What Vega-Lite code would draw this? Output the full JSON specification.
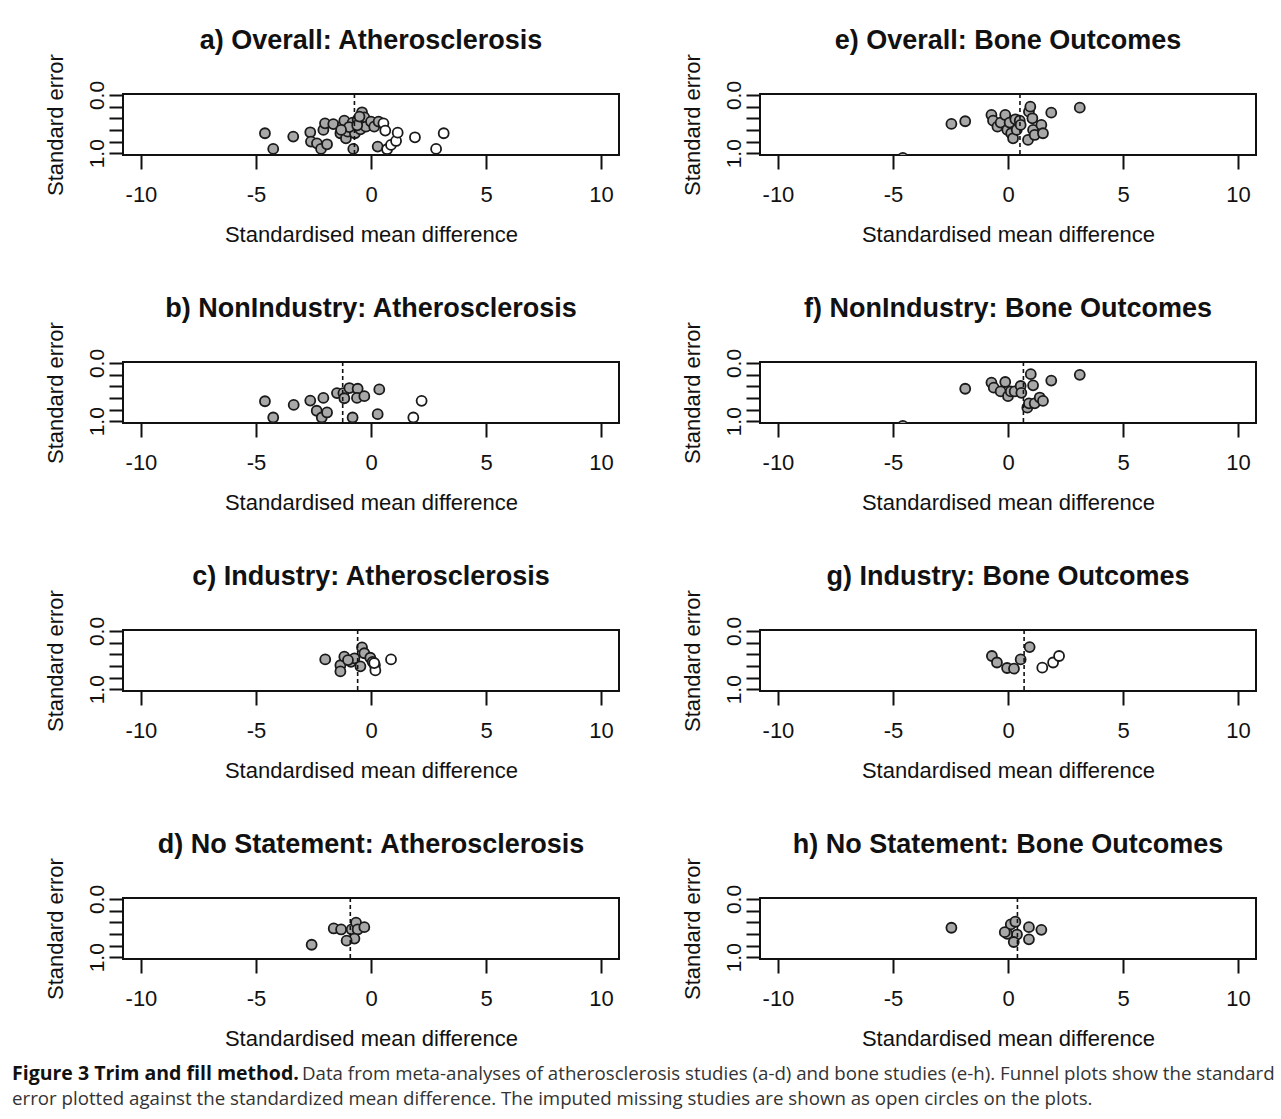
{
  "$schema": "https://vega.github.io/schema/vega-lite/v6.json",
  "background": "white",
  "padding": {"left": 12, "top": 25, "right": 4, "bottom": 5},
  "bounds": "flush",
  "datasets": {
    "pts": [
      {"p":"a","smd":-4.61,"se":0.657,"k":"observed"},{"p":"a","smd":-4.25,"se":0.926,"k":"observed"},{"p":"a","smd":-3.38,"se":0.714,"k":"observed"},{"p":"a","smd":-2.64,"se":0.64,"k":"observed"},{"p":"a","smd":-2.61,"se":0.8,"k":"observed"},{"p":"a","smd":-2.35,"se":0.83,"k":"observed"},{"p":"a","smd":-2.17,"se":0.926,"k":"observed"},{"p":"a","smd":-1.91,"se":0.846,"k":"observed"},{"p":"a","smd":-2.07,"se":0.6,"k":"observed"},{"p":"a","smd":-2.0,"se":0.486,"k":"observed"},{"p":"a","smd":-1.64,"se":0.5,"k":"observed"},{"p":"a","smd":-1.33,"se":0.657,"k":"observed"},{"p":"a","smd":-1.23,"se":0.526,"k":"observed"},{"p":"a","smd":-1.16,"se":0.44,"k":"observed"},{"p":"a","smd":-1.09,"se":0.743,"k":"observed"},{"p":"a","smd":-1.01,"se":0.629,"k":"observed"},{"p":"a","smd":-0.8,"se":0.474,"k":"observed"},{"p":"a","smd":-0.77,"se":0.926,"k":"observed"},{"p":"a","smd":-0.7,"se":0.657,"k":"observed"},{"p":"a","smd":-0.58,"se":0.429,"k":"observed"},{"p":"a","smd":-0.46,"se":0.589,"k":"observed"},{"p":"a","smd":-0.39,"se":0.297,"k":"observed"},{"p":"a","smd":-0.29,"se":0.383,"k":"observed"},{"p":"a","smd":-0.22,"se":0.543,"k":"observed"},{"p":"a","smd":0.0,"se":0.457,"k":"observed"},{"p":"a","smd":0.14,"se":0.543,"k":"observed"},{"p":"a","smd":0.33,"se":0.457,"k":"observed"},{"p":"a","smd":0.29,"se":0.886,"k":"observed"},{"p":"a","smd":-0.95,"se":0.55,"k":"observed"},{"p":"a","smd":-0.6,"se":0.52,"k":"observed"},{"p":"a","smd":-1.3,"se":0.6,"k":"observed"},{"p":"a","smd":-0.5,"se":0.37,"k":"observed"},
      {"p":"a","smd":0.54,"se":0.486,"k":"imputed"},{"p":"a","smd":0.62,"se":0.611,"k":"imputed"},{"p":"a","smd":0.7,"se":0.931,"k":"imputed"},{"p":"a","smd":0.87,"se":0.857,"k":"imputed"},{"p":"a","smd":1.09,"se":0.789,"k":"imputed"},{"p":"a","smd":1.16,"se":0.646,"k":"imputed"},{"p":"a","smd":1.91,"se":0.726,"k":"imputed"},{"p":"a","smd":2.83,"se":0.926,"k":"imputed"},{"p":"a","smd":3.16,"se":0.657,"k":"imputed"},
      {"p":"b","smd":-4.61,"se":0.657,"k":"observed"},{"p":"b","smd":-4.25,"se":0.936,"k":"observed"},{"p":"b","smd":-3.36,"se":0.72,"k":"observed"},{"p":"b","smd":-2.64,"se":0.645,"k":"observed"},{"p":"b","smd":-2.36,"se":0.82,"k":"observed"},{"p":"b","smd":-2.14,"se":0.936,"k":"observed"},{"p":"b","smd":-1.91,"se":0.849,"k":"observed"},{"p":"b","smd":-2.07,"se":0.599,"k":"observed"},{"p":"b","smd":-1.48,"se":0.517,"k":"observed"},{"p":"b","smd":-1.2,"se":0.517,"k":"observed"},{"p":"b","smd":-1.16,"se":0.605,"k":"observed"},{"p":"b","smd":-0.94,"se":0.43,"k":"observed"},{"p":"b","smd":-0.58,"se":0.442,"k":"observed"},{"p":"b","smd":-0.61,"se":0.599,"k":"observed"},{"p":"b","smd":-0.29,"se":0.57,"k":"observed"},{"p":"b","smd":-0.8,"se":0.936,"k":"observed"},{"p":"b","smd":0.36,"se":0.453,"k":"observed"},{"p":"b","smd":0.29,"se":0.878,"k":"observed"},
      {"p":"b","smd":2.2,"se":0.65,"k":"imputed"},{"p":"b","smd":1.84,"se":0.936,"k":"imputed"},
      {"p":"c","smd":-1.99,"se":0.488,"k":"observed"},{"p":"c","smd":-1.33,"se":0.588,"k":"observed"},{"p":"c","smd":-1.33,"se":0.694,"k":"observed"},{"p":"c","smd":-1.16,"se":0.441,"k":"observed"},{"p":"c","smd":-0.87,"se":0.529,"k":"observed"},{"p":"c","smd":-0.72,"se":0.47,"k":"observed"},{"p":"c","smd":-0.46,"se":0.606,"k":"observed"},{"p":"c","smd":-0.39,"se":0.282,"k":"observed"},{"p":"c","smd":-0.29,"se":0.382,"k":"observed"},{"p":"c","smd":-0.03,"se":0.459,"k":"observed"},{"p":"c","smd":0.07,"se":0.529,"k":"observed"},{"p":"c","smd":-1.0,"se":0.5,"k":"observed"},
      {"p":"c","smd":0.87,"se":0.488,"k":"imputed"},{"p":"c","smd":0.17,"se":0.588,"k":"imputed"},{"p":"c","smd":0.19,"se":0.676,"k":"imputed"},{"p":"c","smd":0.14,"se":0.55,"k":"imputed"},
      {"p":"d","smd":-2.58,"se":0.785,"k":"observed"},{"p":"d","smd":-1.62,"se":0.506,"k":"observed"},{"p":"d","smd":-1.3,"se":0.523,"k":"observed"},{"p":"d","smd":-0.84,"se":0.523,"k":"observed"},{"p":"d","smd":-0.65,"se":0.407,"k":"observed"},{"p":"d","smd":-0.58,"se":0.523,"k":"observed"},{"p":"d","smd":-0.29,"se":0.483,"k":"observed"},{"p":"d","smd":-0.72,"se":0.68,"k":"observed"},{"p":"d","smd":-1.06,"se":0.715,"k":"observed"},
      {"p":"e","smd":-2.46,"se":0.497,"k":"observed"},{"p":"e","smd":-1.86,"se":0.451,"k":"observed"},{"p":"e","smd":-0.72,"se":0.343,"k":"observed"},{"p":"e","smd":-0.65,"se":0.44,"k":"observed"},{"p":"e","smd":-0.46,"se":0.543,"k":"observed"},{"p":"e","smd":-0.32,"se":0.474,"k":"observed"},{"p":"e","smd":-0.12,"se":0.343,"k":"observed"},{"p":"e","smd":-0.03,"se":0.6,"k":"observed"},{"p":"e","smd":0.07,"se":0.474,"k":"observed"},{"p":"e","smd":0.14,"se":0.657,"k":"observed"},{"p":"e","smd":0.22,"se":0.743,"k":"observed"},{"p":"e","smd":0.32,"se":0.417,"k":"observed"},{"p":"e","smd":0.38,"se":0.6,"k":"observed"},{"p":"e","smd":0.51,"se":0.44,"k":"observed"},{"p":"e","smd":0.55,"se":0.514,"k":"observed"},{"p":"e","smd":0.87,"se":0.771,"k":"observed"},{"p":"e","smd":0.91,"se":0.286,"k":"observed"},{"p":"e","smd":0.97,"se":0.2,"k":"observed"},{"p":"e","smd":1.06,"se":0.4,"k":"observed"},{"p":"e","smd":1.09,"se":0.6,"k":"observed"},{"p":"e","smd":1.16,"se":0.686,"k":"observed"},{"p":"e","smd":1.45,"se":0.514,"k":"observed"},{"p":"e","smd":1.52,"se":0.657,"k":"observed"},{"p":"e","smd":1.88,"se":0.303,"k":"observed"},{"p":"e","smd":3.12,"se":0.217,"k":"observed"},{"p":"e","smd":-4.57,"se":1.08,"k":"observed"},
      {"p":"f","smd":-1.86,"se":0.442,"k":"observed"},{"p":"f","smd":-0.72,"se":0.337,"k":"observed"},{"p":"f","smd":-0.62,"se":0.424,"k":"observed"},{"p":"f","smd":-0.32,"se":0.488,"k":"observed"},{"p":"f","smd":-0.12,"se":0.326,"k":"observed"},{"p":"f","smd":0.0,"se":0.57,"k":"observed"},{"p":"f","smd":0.12,"se":0.488,"k":"observed"},{"p":"f","smd":0.29,"se":0.488,"k":"observed"},{"p":"f","smd":0.55,"se":0.395,"k":"observed"},{"p":"f","smd":0.58,"se":0.512,"k":"observed"},{"p":"f","smd":0.99,"se":0.192,"k":"observed"},{"p":"f","smd":1.09,"se":0.384,"k":"observed"},{"p":"f","smd":0.84,"se":0.767,"k":"observed"},{"p":"f","smd":0.91,"se":0.692,"k":"observed"},{"p":"f","smd":1.16,"se":0.692,"k":"observed"},{"p":"f","smd":1.38,"se":0.593,"k":"observed"},{"p":"f","smd":1.52,"se":0.651,"k":"observed"},{"p":"f","smd":1.88,"se":0.302,"k":"observed"},{"p":"f","smd":3.12,"se":0.203,"k":"observed"},{"p":"f","smd":-4.57,"se":1.08,"k":"observed"},
      {"p":"g","smd":-0.7,"se":0.429,"k":"observed"},{"p":"g","smd":-0.48,"se":0.541,"k":"observed"},{"p":"g","smd":-0.04,"se":0.635,"k":"observed"},{"p":"g","smd":0.26,"se":0.647,"k":"observed"},{"p":"g","smd":0.55,"se":0.488,"k":"observed"},{"p":"g","smd":0.94,"se":0.276,"k":"observed"},
      {"p":"g","smd":1.49,"se":0.629,"k":"imputed"},{"p":"g","smd":1.96,"se":0.541,"k":"imputed"},{"p":"g","smd":2.22,"se":0.429,"k":"imputed"},
      {"p":"h","smd":-2.46,"se":0.494,"k":"observed"},{"p":"h","smd":0.12,"se":0.436,"k":"observed"},{"p":"h","smd":0.32,"se":0.39,"k":"observed"},{"p":"h","smd":-0.03,"se":0.599,"k":"observed"},{"p":"h","smd":0.39,"se":0.61,"k":"observed"},{"p":"h","smd":0.25,"se":0.738,"k":"observed"},{"p":"h","smd":0.91,"se":0.483,"k":"observed"},{"p":"h","smd":1.45,"se":0.529,"k":"observed"},{"p":"h","smd":0.91,"se":0.692,"k":"observed"},{"p":"h","smd":-0.14,"se":0.57,"k":"observed"}
    ],
    "est": [
      {"p":"a","smd":-0.72},{"p":"b","smd":-1.23},{"p":"c","smd":-0.58},{"p":"d","smd":-0.9},
      {"p":"e","smd":0.52},{"p":"f","smd":0.67},{"p":"g","smd":0.7},{"p":"h","smd":0.41}
    ]
  },
  "vconcat": [
    {
      "bounds": "flush",
      "spacing": 268,
      "title": {
        "text": "Figure 3 Trim and fill method.",
        "subtitle": "error plotted against the standardized mean difference. The imputed missing studies are shown as open circles on the plots.",
        "orient": "bottom", "anchor": "start", "frame": "bounds",
        "dx": -31, "offset": 15,
        "font": "Open Sans", "fontSize": 19.5, "fontWeight": "bold", "color": "#111111",
        "subtitleFont": "Open Sans", "subtitleFontSize": 18.7, "subtitleFontWeight": "normal", "subtitleColor": "#333333", "subtitlePadding": 5
      },
      "vconcat": [
        {"bounds": "flush", "spacing": 141, "hconcat": [
          {"title": "a) Overall: Atherosclerosis", "width": 496, "height": 61, "layer": [
            {"data": {"name": "pts"}, "transform": [{"filter": "datum.p == 'a'"}], "mark": {"type": "circle", "clip": true, "size": 100, "opacity": 1, "stroke": "#1a1a1a", "strokeWidth": 1.8},
             "encoding": {"x": {"field": "smd", "type": "quantitative", "title": "Standardised mean difference", "scale": {"domain": [-10.78, 10.78], "nice": false, "zero": false}, "axis": {"values": [-10, -5, 0, 5, 10]}}, "y": {"field": "se", "type": "quantitative", "title": "Standard error", "scale": {"domain": [-0.017, 1.03], "reverse": true, "nice": false, "zero": false}, "axis": {"values": [0, 0.2, 0.4, 0.6, 0.8, 1.0]}}, "fill": {"field": "k", "type": "nominal", "scale": {"domain": ["observed", "imputed"], "range": ["#a8a8a8", "#ffffff"]}, "legend": null}}},
            {"data": {"name": "est"}, "transform": [{"filter": "datum.p == 'a'"}], "mark": {"type": "rule", "strokeDash": [4, 3], "strokeWidth": 1.6, "color": "#111111"},
             "encoding": {"x": {"field": "smd", "type": "quantitative"}}}
          ]},
          {"title": "e) Overall: Bone Outcomes", "width": 496, "height": 61, "layer": [
            {"data": {"name": "pts"}, "transform": [{"filter": "datum.p == 'e'"}], "mark": {"type": "circle", "clip": true, "size": 100, "opacity": 1, "stroke": "#1a1a1a", "strokeWidth": 1.8},
             "encoding": {"x": {"field": "smd", "type": "quantitative", "title": "Standardised mean difference", "scale": {"domain": [-10.78, 10.78], "nice": false, "zero": false}, "axis": {"values": [-10, -5, 0, 5, 10]}}, "y": {"field": "se", "type": "quantitative", "title": "Standard error", "scale": {"domain": [-0.017, 1.03], "reverse": true, "nice": false, "zero": false}, "axis": {"values": [0, 0.2, 0.4, 0.6, 0.8, 1.0]}}, "fill": {"field": "k", "type": "nominal", "scale": {"domain": ["observed", "imputed"], "range": ["#a8a8a8", "#ffffff"]}, "legend": null}}},
            {"data": {"name": "est"}, "transform": [{"filter": "datum.p == 'e'"}], "mark": {"type": "rule", "strokeDash": [4, 3], "strokeWidth": 1.6, "color": "#111111"},
             "encoding": {"x": {"field": "smd", "type": "quantitative"}}}
          ]}
        ]},
        {"bounds": "flush", "spacing": 141, "hconcat": [
          {"title": "b) NonIndustry: Atherosclerosis", "width": 496, "height": 61, "layer": [
            {"data": {"name": "pts"}, "transform": [{"filter": "datum.p == 'b'"}], "mark": {"type": "circle", "clip": true, "size": 100, "opacity": 1, "stroke": "#1a1a1a", "strokeWidth": 1.8},
             "encoding": {"x": {"field": "smd", "type": "quantitative", "title": "Standardised mean difference", "scale": {"domain": [-10.78, 10.78], "nice": false, "zero": false}, "axis": {"values": [-10, -5, 0, 5, 10]}}, "y": {"field": "se", "type": "quantitative", "title": "Standard error", "scale": {"domain": [-0.017, 1.03], "reverse": true, "nice": false, "zero": false}, "axis": {"values": [0, 0.2, 0.4, 0.6, 0.8, 1.0]}}, "fill": {"field": "k", "type": "nominal", "scale": {"domain": ["observed", "imputed"], "range": ["#a8a8a8", "#ffffff"]}, "legend": null}}},
            {"data": {"name": "est"}, "transform": [{"filter": "datum.p == 'b'"}], "mark": {"type": "rule", "strokeDash": [4, 3], "strokeWidth": 1.6, "color": "#111111"},
             "encoding": {"x": {"field": "smd", "type": "quantitative"}}}
          ]},
          {"title": "f) NonIndustry: Bone Outcomes", "width": 496, "height": 61, "layer": [
            {"data": {"name": "pts"}, "transform": [{"filter": "datum.p == 'f'"}], "mark": {"type": "circle", "clip": true, "size": 100, "opacity": 1, "stroke": "#1a1a1a", "strokeWidth": 1.8},
             "encoding": {"x": {"field": "smd", "type": "quantitative", "title": "Standardised mean difference", "scale": {"domain": [-10.78, 10.78], "nice": false, "zero": false}, "axis": {"values": [-10, -5, 0, 5, 10]}}, "y": {"field": "se", "type": "quantitative", "title": "Standard error", "scale": {"domain": [-0.017, 1.03], "reverse": true, "nice": false, "zero": false}, "axis": {"values": [0, 0.2, 0.4, 0.6, 0.8, 1.0]}}, "fill": {"field": "k", "type": "nominal", "scale": {"domain": ["observed", "imputed"], "range": ["#a8a8a8", "#ffffff"]}, "legend": null}}},
            {"data": {"name": "est"}, "transform": [{"filter": "datum.p == 'f'"}], "mark": {"type": "rule", "strokeDash": [4, 3], "strokeWidth": 1.6, "color": "#111111"},
             "encoding": {"x": {"field": "smd", "type": "quantitative"}}}
          ]}
        ]},
        {"bounds": "flush", "spacing": 141, "hconcat": [
          {"title": "c) Industry: Atherosclerosis", "width": 496, "height": 61, "layer": [
            {"data": {"name": "pts"}, "transform": [{"filter": "datum.p == 'c'"}], "mark": {"type": "circle", "clip": true, "size": 100, "opacity": 1, "stroke": "#1a1a1a", "strokeWidth": 1.8},
             "encoding": {"x": {"field": "smd", "type": "quantitative", "title": "Standardised mean difference", "scale": {"domain": [-10.78, 10.78], "nice": false, "zero": false}, "axis": {"values": [-10, -5, 0, 5, 10]}}, "y": {"field": "se", "type": "quantitative", "title": "Standard error", "scale": {"domain": [-0.017, 1.03], "reverse": true, "nice": false, "zero": false}, "axis": {"values": [0, 0.2, 0.4, 0.6, 0.8, 1.0]}}, "fill": {"field": "k", "type": "nominal", "scale": {"domain": ["observed", "imputed"], "range": ["#a8a8a8", "#ffffff"]}, "legend": null}}},
            {"data": {"name": "est"}, "transform": [{"filter": "datum.p == 'c'"}], "mark": {"type": "rule", "strokeDash": [4, 3], "strokeWidth": 1.6, "color": "#111111"},
             "encoding": {"x": {"field": "smd", "type": "quantitative"}}}
          ]},
          {"title": "g) Industry: Bone Outcomes", "width": 496, "height": 61, "layer": [
            {"data": {"name": "pts"}, "transform": [{"filter": "datum.p == 'g'"}], "mark": {"type": "circle", "clip": true, "size": 100, "opacity": 1, "stroke": "#1a1a1a", "strokeWidth": 1.8},
             "encoding": {"x": {"field": "smd", "type": "quantitative", "title": "Standardised mean difference", "scale": {"domain": [-10.78, 10.78], "nice": false, "zero": false}, "axis": {"values": [-10, -5, 0, 5, 10]}}, "y": {"field": "se", "type": "quantitative", "title": "Standard error", "scale": {"domain": [-0.017, 1.03], "reverse": true, "nice": false, "zero": false}, "axis": {"values": [0, 0.2, 0.4, 0.6, 0.8, 1.0]}}, "fill": {"field": "k", "type": "nominal", "scale": {"domain": ["observed", "imputed"], "range": ["#a8a8a8", "#ffffff"]}, "legend": null}}},
            {"data": {"name": "est"}, "transform": [{"filter": "datum.p == 'g'"}], "mark": {"type": "rule", "strokeDash": [4, 3], "strokeWidth": 1.6, "color": "#111111"},
             "encoding": {"x": {"field": "smd", "type": "quantitative"}}}
          ]}
        ]},
        {"bounds": "flush", "spacing": 141, "hconcat": [
          {"title": "d) No Statement: Atherosclerosis", "width": 496, "height": 61, "layer": [
            {"data": {"name": "pts"}, "transform": [{"filter": "datum.p == 'd'"}], "mark": {"type": "circle", "clip": true, "size": 100, "opacity": 1, "stroke": "#1a1a1a", "strokeWidth": 1.8},
             "encoding": {"x": {"field": "smd", "type": "quantitative", "title": "Standardised mean difference", "scale": {"domain": [-10.78, 10.78], "nice": false, "zero": false}, "axis": {"values": [-10, -5, 0, 5, 10]}}, "y": {"field": "se", "type": "quantitative", "title": "Standard error", "scale": {"domain": [-0.017, 1.03], "reverse": true, "nice": false, "zero": false}, "axis": {"values": [0, 0.2, 0.4, 0.6, 0.8, 1.0]}}, "fill": {"field": "k", "type": "nominal", "scale": {"domain": ["observed", "imputed"], "range": ["#a8a8a8", "#ffffff"]}, "legend": null}}},
            {"data": {"name": "est"}, "transform": [{"filter": "datum.p == 'd'"}], "mark": {"type": "rule", "strokeDash": [4, 3], "strokeWidth": 1.6, "color": "#111111"},
             "encoding": {"x": {"field": "smd", "type": "quantitative"}}}
          ]},
          {"title": "h) No Statement: Bone Outcomes", "width": 496, "height": 61, "layer": [
            {"data": {"name": "pts"}, "transform": [{"filter": "datum.p == 'h'"}], "mark": {"type": "circle", "clip": true, "size": 100, "opacity": 1, "stroke": "#1a1a1a", "strokeWidth": 1.8},
             "encoding": {"x": {"field": "smd", "type": "quantitative", "title": "Standardised mean difference", "scale": {"domain": [-10.78, 10.78], "nice": false, "zero": false}, "axis": {"values": [-10, -5, 0, 5, 10]}}, "y": {"field": "se", "type": "quantitative", "title": "Standard error", "scale": {"domain": [-0.017, 1.03], "reverse": true, "nice": false, "zero": false}, "axis": {"values": [0, 0.2, 0.4, 0.6, 0.8, 1.0]}}, "fill": {"field": "k", "type": "nominal", "scale": {"domain": ["observed", "imputed"], "range": ["#a8a8a8", "#ffffff"]}, "legend": null}}},
            {"data": {"name": "est"}, "transform": [{"filter": "datum.p == 'h'"}], "mark": {"type": "rule", "strokeDash": [4, 3], "strokeWidth": 1.6, "color": "#111111"},
             "encoding": {"x": {"field": "smd", "type": "quantitative"}}}
          ]}
        ]}
      ]
    }
  ],
  "title": {
    "text": "Data from meta-analyses of atherosclerosis studies (a-d) and bone studies (e-h). Funnel plots show the standard",
    "orient": "bottom", "anchor": "start", "frame": "bounds",
    "dx": 290, "offset": -43,
    "font": "Open Sans", "fontSize": 18.7, "fontWeight": "normal", "color": "#333333"
  },
  "config": {
    "font": "Liberation Sans",
    "view": {"stroke": "#111111", "strokeWidth": 2},
    "title": {"fontSize": 27, "fontWeight": "bold", "font": "Liberation Sans", "color": "#111111", "offset": -1, "anchor": "middle", "frame": "group"},
    "axisX": {
      "titleFontSize": 22, "titleFontWeight": "normal", "titleColor": "#111111", "titlePadding": 19,
      "domain": false, "grid": false, "tickSize": 14, "tickColor": "#111111", "tickWidth": 2,
      "labelExpr": "'' + datum.value", "labelFontSize": 22, "labelColor": "#111111", "labelPadding": 15, "labelFlush": false
    },
    "axisY": {
      "titleFontSize": 22, "titleFontWeight": "normal", "titleColor": "#111111", "titlePadding": 19,
      "domain": false, "grid": false, "tickSize": 14, "tickColor": "#111111", "tickWidth": 2,
      "labelAngle": -90, "labelAlign": "center", "labelBaseline": "bottom", "labelFontSize": 21, "labelColor": "#111111", "labelPadding": 2,
      "labelExpr": "datum.value == 0 ? '0.0' : (datum.value == 1 ? '1.0' : '')"
    }
  }
}
